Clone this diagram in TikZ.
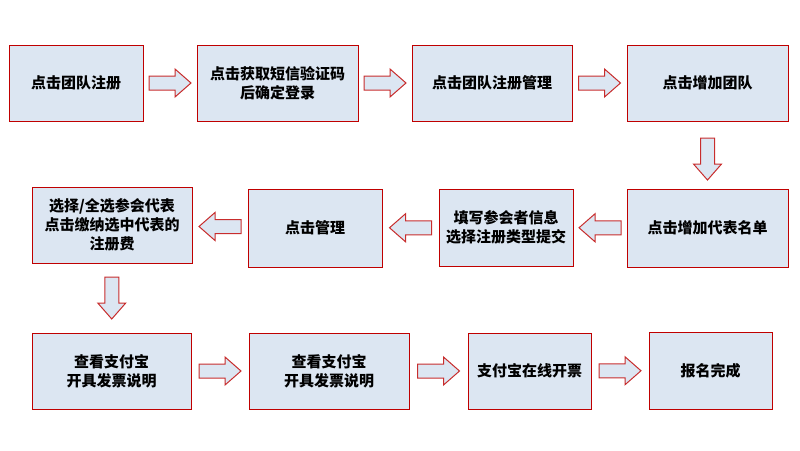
\documentclass[tikz,border=0pt]{standalone}
\usepackage{fontspec}
\newfontfamily\cjk{Noto Sans CJK SC}
\definecolor{boxfill}{RGB}{220,230,242}
\definecolor{boxline}{RGB}{192,0,0}
\definecolor{arrowline}{RGB}{200,45,45}

\begin{document}
\begin{tikzpicture}[x=1pt, y=-1pt,
    stepbox/.style={draw=boxline, fill=boxfill, line width=1pt, align=center,
        inner sep=2pt, font=\cjk\bfseries\fontsize{15}{19}\selectfont},
    fatarrow/.pic={\draw[draw=arrowline, fill=boxfill, line width=1pt]
        (-21,-7) -- (5,-7) -- (5,-14) -- (21,0) -- (5,14) -- (5,7) -- (-21,7) -- cycle;}]
    \useasboundingbox (0,0) rectangle (800,450);

    % Row 1: left to right
    \node (s1) at (76,83) [stepbox, minimum width=134pt, minimum height=76pt] {点击团队注册};
    \node (s2) at (277.5,83) [stepbox, minimum width=161pt, minimum height=76pt] {点击获取短信验证码\\后确定登录};
    \node (s3) at (492,83) [stepbox, minimum width=160pt, minimum height=76pt] {点击团队注册管理};
    \node (s4) at (707.5,83) [stepbox, minimum width=161pt, minimum height=76pt] {点击增加团队};

    % Row 2: right to left
    \node (s5) at (707.5,228) [stepbox, minimum width=161pt, minimum height=78pt] {点击增加代表名单};
    \node (s6) at (506,227.5) [stepbox, minimum width=134pt, minimum height=77pt] {填写参会者信息\\选择注册类型提交};
    \node (s7) at (315,228) [stepbox, minimum width=134pt, minimum height=78pt] {点击管理};
    \node (s8) at (112,225) [stepbox, minimum width=160pt, minimum height=76pt] {选择/全选参会代表\\点击缴纳选中代表的\\注册费};

    % Row 3: left to right
    \node (s9) at (111.5,371) [stepbox, minimum width=159pt, minimum height=76pt] {查看支付宝\\开具发票说明};
    \node (s10) at (329,371) [stepbox, minimum width=160pt, minimum height=76pt] {查看支付宝\\开具发票说明};
    \node (s11) at (529.5,371) [stepbox, minimum width=123pt, minimum height=76pt] {支付宝在线开票};
    \node (s12) at (710.5,370.5) [stepbox, minimum width=123pt, minimum height=77pt] {报名完成};

    % Block arrows between the steps
    \path (s1.east) -- (s2.west) pic[midway] {fatarrow};
    \path (s2.east) -- (s3.west) pic[midway] {fatarrow};
    \path (s3.east) -- (s4.west) pic[midway] {fatarrow};
    \path (s4.south) -- (s5.north) pic[pos=.56, rotate=-90] {fatarrow};
    \path (s5.west) -- (s6.east) pic[midway, rotate=180] {fatarrow};
    \path (s6.west) -- (s7.east) pic[midway, rotate=180] {fatarrow};
    \path (s7.west) -- (s8.east) pic[midway, rotate=180] {fatarrow};
    \path (s8.south) -- (s9.north) pic[midway, rotate=-90] {fatarrow};
    \path (s9.east) -- (s10.west) pic[midway] {fatarrow};
    \path (s10.east) -- (s11.west) pic[midway] {fatarrow};
    \path (s11.east) -- (s12.west) pic[midway] {fatarrow};
\end{tikzpicture}
\end{document}
